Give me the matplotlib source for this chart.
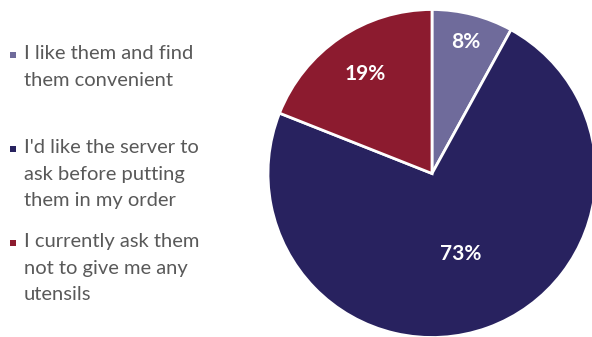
import numpy as np
import matplotlib
matplotlib.use("Agg")
import matplotlib.pyplot as plt
from matplotlib.patches import Rectangle

# Survey responses about included utensils
categories = [
    "I like them and find\nthem convenient",
    "I'd like the server to\nask before putting\nthem in my order",
    "I currently ask them\nnot to give me any\nutensils",
]
shares = [8, 73, 19]
colors = ["#6F6B9B", "#28225F", "#8C1B2F"]

W, H = 592, 337
fig = plt.figure(figsize=(W / 100, H / 100), dpi=100)
fig.patch.set_facecolor("white")

# Pie axes: center (432, 173) px, radius 164 px
cx, cy, r = 432, 173.5, 164
ax = fig.add_axes([(cx - r) / W, (H - cy - r) / H, 2 * r / W, 2 * r / H])

wedges, _ = ax.pie(
    shares, colors=colors, startangle=90, counterclock=False, radius=1,
    wedgeprops=dict(edgecolor="white", linewidth=2), center=(0, 0),
)
ax.set_xlim(-1, 1)
ax.set_ylim(-1, 1)
ax.set_aspect("equal")
ax.axis("off")
for w in wedges:
    w.set_clip_on(False)

# Percentage labels placed along each wedge's bisector
label_radius = [0.83, 0.52, 0.73]
for w, val, lr in zip(wedges, shares, label_radius):
    mid = np.deg2rad((w.theta1 + w.theta2) / 2)
    ax.text(lr * np.cos(mid), lr * np.sin(mid), f"{val}%",
            ha="center", va="center", color="white",
            fontsize=15, fontweight="bold", family="Lato")

# Legend on the left, entries evenly spaced
entry_y = [55, 149, 243]
for label, col, y in zip(categories, colors, entry_y):
    fig.patches.append(Rectangle((10 / W, (H - y - 3) / H), 6 / W, 6 / H,
                                 transform=fig.transFigure, facecolor=col,
                                 edgecolor="none"))
    fig.text(24 / W, (H - y + 10) / H, label, ha="left", va="top",
             color="#595959", fontsize=14.5, family="Lato", linespacing=1.68)

fig.savefig("out.png", dpi=100)
